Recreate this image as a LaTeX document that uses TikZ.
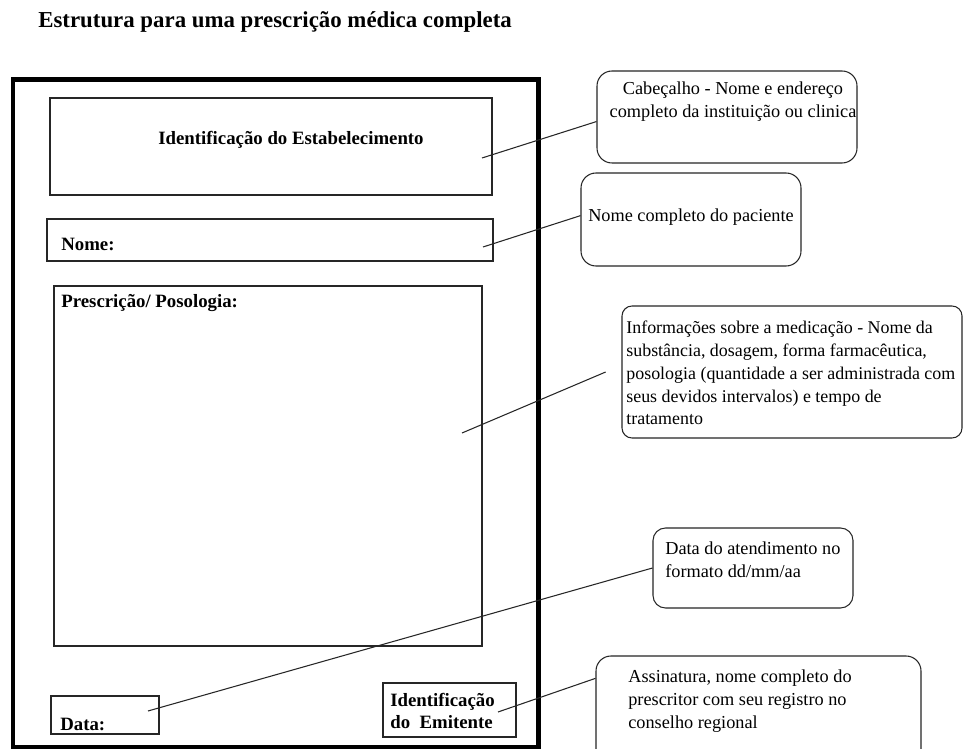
\documentclass[tikz,border=0pt]{standalone}
\usepackage{fontspec}
\setmainfont{Liberation Serif}
\usetikzlibrary{fit}

\tikzset{
  campo/.style={draw=black!85, line width=0.7pt, inner sep=0pt},
  balao/.style={draw=black!85, line width=0.6pt, rounded corners=0.3cm, inner sep=0pt},
  rotulo/.style={font=\bfseries\fontsize{10.7}{13}\selectfont, inner sep=0pt, align=left},
  nota/.style={font=\fontsize{10.4}{13}\selectfont, inner sep=0pt, align=left},
  liga/.style={draw=black!85, line width=0.6pt}
}

\begin{document}
\begin{tikzpicture}[x=0.02cm, y=-0.02cm]
  \clip (0,0) rectangle (963,749);
  \fill[white] (0,0) rectangle (963,749);

  \node[font=\bfseries\fontsize{13}{15}\selectfont, inner sep=0pt, anchor=west] (titulo) at (38,22)
    {Estrutura para uma prescrição médica completa};

  % a folha da receita
  \draw[line width=0.1cm] (13,80) rectangle (538,747);

  \node[campo, fit={(50,98) (492,195)}] (estab) {};
  \node[rotulo] (estabtxt) at (291,140) {Identificação do Estabelecimento};

  \node[campo, fit={(47,219) (493,261)}] (nome) {};
  \node[rotulo, anchor=west] (nometxt) at (61,244) {Nome:};

  \node[campo, fit={(54,286) (482,646)}] (presc) {};
  \node[rotulo, anchor=west] (presctxt) at (61,303) {Prescrição/ Posologia:};

  \node[campo, fit={(51,696) (159,734)}] (data) {};
  \node[rotulo, anchor=west] (datatxt) at (60,724) {Data:};

  \node[campo, fit={(383,683) (516,737)}] (emit) {};
  \node[rotulo, anchor=west] (emittxt) at (390,711) {Identificação\\do~~Emitente};

  % baloes explicativos
  \node[balao, fit={(597,71) (857,163)}] (cab) {};
  \node[nota, align=center] (cabtxt) at (733,102)
    {Cabeçalho - Nome e endereço\\completo da instituição ou clinica};

  \node[balao, fit={(581,173) (801,266)}] (pac) {};
  \node[nota] (pactxt) at (691,217) {Nome completo do paciente};

  \node[balao, rounded corners=0.2cm, fit={(622,306) (962,438)}] (med) {};
  \node[nota, font=\fontsize{10.2}{13}\selectfont, anchor=west] (medtxt) at (626,373)
    {Informações sobre a medicação - Nome da\\substância, dosagem, forma farmacêutica,\\posologia (quantidade a ser administrada com\\seus devidos intervalos) e tempo de\\tratamento};

  \node[balao, rounded corners=0.25cm, fit={(653,528) (853,608)}] (atend) {};
  \node[nota, anchor=west] (atendtxt) at (665,560)
    {Data do atendimento no\\formato dd/mm/aa};

  \node[balao, fit={(596,656) (921,770)}] (assin) {};
  \node[nota, anchor=west] (assintxt) at (628,701)
    {Assinatura, nome completo do\\prescritor com seu registro no\\conselho regional};

  % ligacoes
  \coordinate (p1) at (482,158);
  \coordinate (p2) at (483,247);
  \coordinate (p3) at (462,433);
  \coordinate (p4) at (148,711);
  \coordinate (p5) at (498,712);

  \draw[liga] (p1) -- (cab.182);
  \draw[liga] (p2) -- (pac.178);
  \draw[liga] (p3) -- ([xshift=-9]med.west);
  \draw[liga] (p4) -- (atend.west);
  \draw[liga] (p5) -- (assin.168);
\end{tikzpicture}
\end{document}
